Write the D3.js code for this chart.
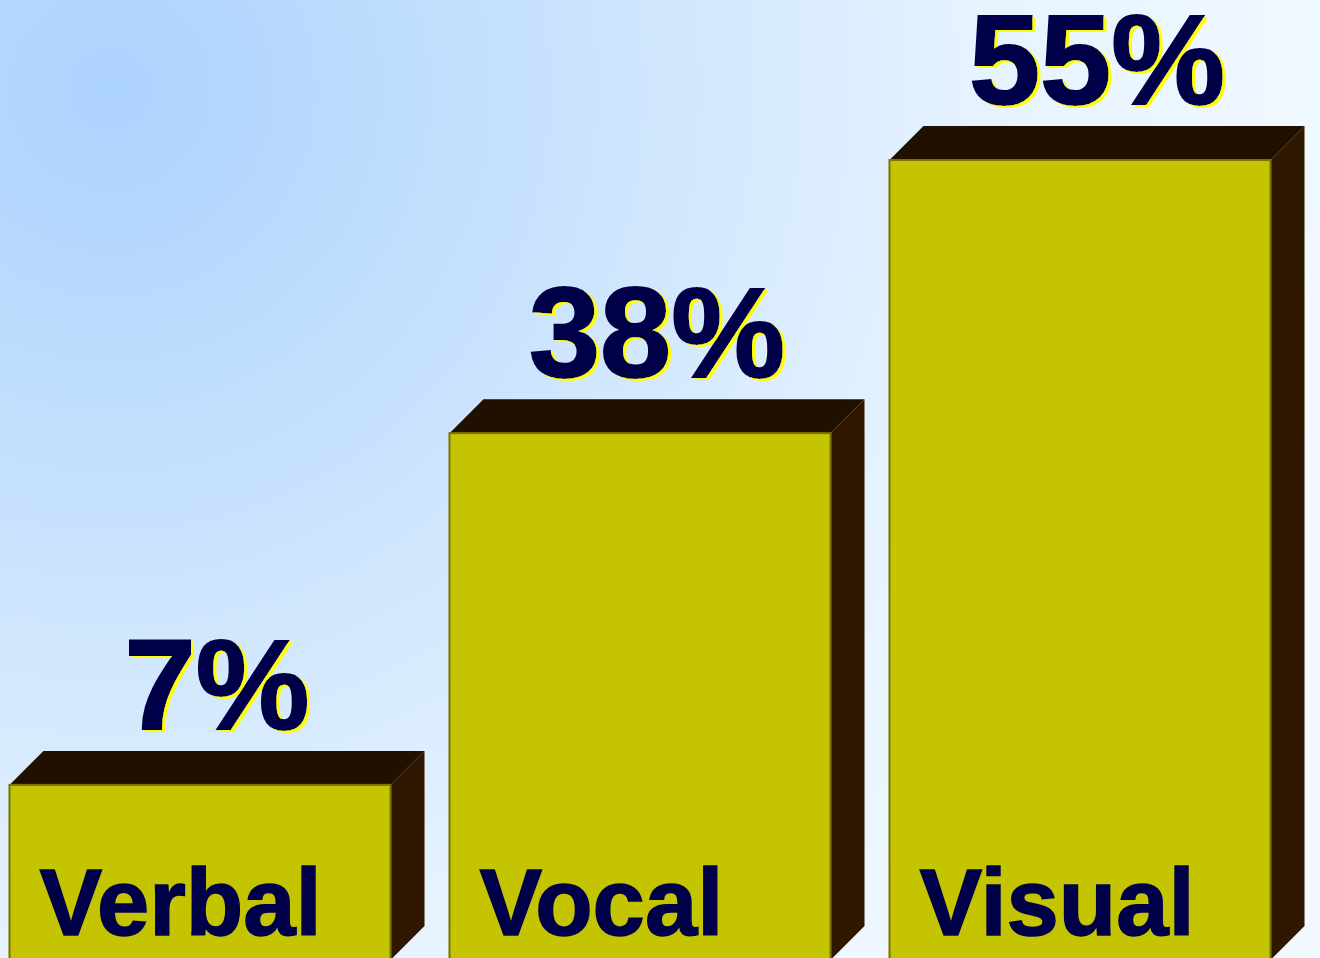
<!DOCTYPE html>
<meta charset="utf-8">
<script src="https://d3js.org/d3.v7.js"></script>
<style>
  body { margin: 0; overflow: hidden; }
</style>
<div id="chart"></div>
<script>

// data
const categories = ["Verbal", "Vocal", "Visual"];
const values = [7, 38, 55];
const valueLabels = ["7%", "38%", "55%"];

const width = 1320, height = 958;
const depth = 34;      // 3d depth of the boxes
const base = 960;      // bottom of the front faces
const baseOffset = 35.2; // the picture's bars don't start from zero

const svg = d3.select("#chart")
  .append("svg")
    .attr("width", width)
    .attr("height", height);

const defs = svg.append("defs");

// background, light blue fading out from the top-left
const grad = defs.append("radialGradient")
    .attr("id", "bg")
    .attr("gradientUnits", "userSpaceOnUse")
    .attr("cx", 110).attr("cy", 90).attr("r", 1250);
grad.append("stop").attr("offset", 0).attr("stop-color", "#acd2fe");
grad.append("stop").attr("offset", 0.35).attr("stop-color", "#c8e2fd");
grad.append("stop").attr("offset", 0.7).attr("stop-color", "#e6f3ff");
grad.append("stop").attr("offset", 1).attr("stop-color", "#f2f9ff");

// yellow drop shadow for the percent labels
const shadow = defs.append("filter")
    .attr("id", "yshadow")
    .attr("x", "-10%").attr("y", "-10%")
    .attr("width", "120%").attr("height", "120%");
shadow.append("feFlood").attr("flood-color", "#ffff00").attr("result", "flood");
shadow.append("feComposite").attr("in", "flood").attr("in2", "SourceAlpha")
    .attr("operator", "in").attr("result", "yellow");
shadow.append("feOffset").attr("in", "yellow").attr("dx", 3).attr("dy", 2).attr("result", "off");
const merge = shadow.append("feMerge");
merge.append("feMergeNode").attr("in", "off");
merge.append("feMergeNode").attr("in", "SourceGraphic");

svg.append("rect")
    .attr("width", width)
    .attr("height", height)
    .attr("fill", "url(#bg)");

// scales
const x = d3.scaleBand()
    .domain(categories)
    .range([-20, 1300])
    .paddingInner(0.134)
    .paddingOuter(0.067);

const y = d3.scalePow()
    .exponent(2)
    .domain([0, d3.max(values) + baseOffset])
    .range([base, 160]);
const barTop = v => y(v + baseOffset);

const data = categories.map((c, i) => ({cat: c, value: values[i], label: valueLabels[i]}));

const bar = svg.selectAll("g.bar")
  .data(data)
  .join("g")
    .attr("class", "bar");

// top face
bar.append("polygon")
    .attr("points", d => {
      const x0 = x(d.cat), x1 = x0 + x.bandwidth(), t = barTop(d.value);
      return [[x0, t], [x0 + depth, t - depth], [x1 + depth, t - depth], [x1, t]].join(" ");
    })
    .attr("fill", "#201000");

// right side face
bar.append("polygon")
    .attr("points", d => {
      const x1 = x(d.cat) + x.bandwidth(), t = barTop(d.value);
      return [[x1, t], [x1 + depth, t - depth], [x1 + depth, base - depth], [x1, base]].join(" ");
    })
    .attr("fill", "#301800");

// front face
bar.append("rect")
    .attr("x", d => x(d.cat))
    .attr("y", d => barTop(d.value))
    .attr("width", x.bandwidth())
    .attr("height", d => base - barTop(d.value))
    .attr("fill", "#c4c400")
    .attr("stroke", "#7c7400")
    .attr("stroke-width", 2);

// category names inside the boxes
bar.append("text")
    .attr("x", d => x(d.cat) + 30)
    .attr("y", 935)
    .attr("font-family", "Liberation Sans, Arial, sans-serif")
    .attr("font-weight", "bold")
    .attr("font-size", 94)
    .attr("fill", "#000048")
    .attr("stroke", "#000048")
    .attr("stroke-width", 1.5)
    .text(d => d.cat);

// percent labels
bar.append("text")
    .attr("x", d => x(d.cat) + x.bandwidth() / 2 + depth / 2)
    .attr("y", d => barTop(d.value) - depth - 22)
    .attr("text-anchor", "middle")
    .attr("font-family", "Liberation Sans, Arial, sans-serif")
    .attr("font-weight", "bold")
    .attr("font-size", 128)
    .attr("fill", "#000048")
    .attr("stroke", "#000048")
    .attr("stroke-width", 2)
    .attr("filter", "url(#yshadow)")
    .text(d => d.label);

</script>
